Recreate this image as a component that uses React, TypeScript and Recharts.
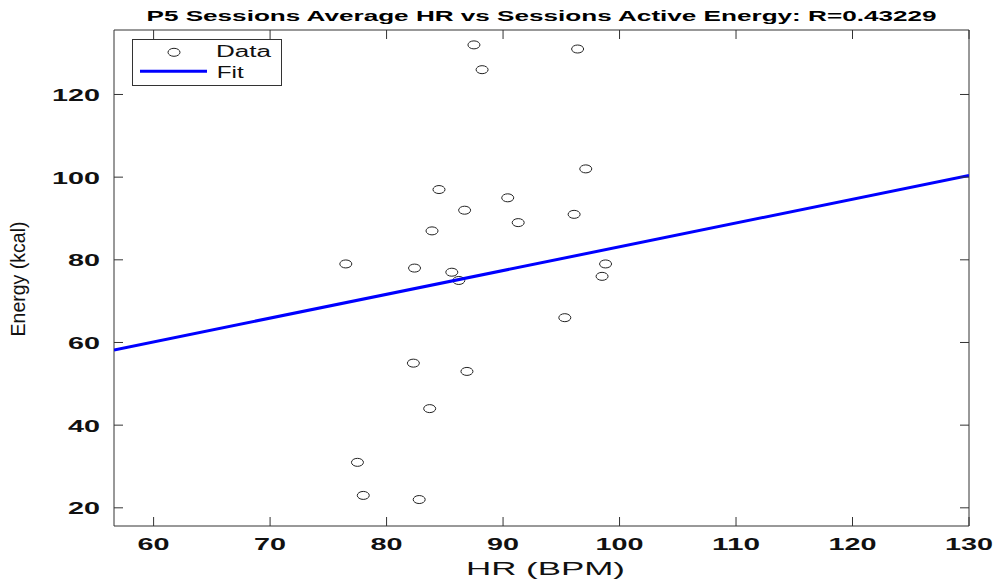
import { ScatterChart, Scatter, XAxis, YAxis, Legend, Label } from "recharts";

// values
const hrValues = [87.5, 96.4, 88.2, 97.1, 84.5, 90.4, 86.7, 91.3, 96.1, 83.9, 76.5, 82.4, 85.6, 86.2, 98.8, 98.5, 95.3, 82.3, 86.9, 83.7, 77.5, 78.0, 82.8];
const energyValues = [132, 131, 126, 102, 97, 95, 92, 89, 91, 87, 79, 78, 77, 75, 79, 76, 66, 55, 53, 44, 31, 23, 22];

// least squares fit drawn at the axis ends
const fitHr = [56.6, 130];
const fitEnergy = [58.2, 100.4];

const xTicks = [60, 70, 80, 90, 100, 110, 120, 130];
const yTicks = [20, 40, 60, 80, 100, 120];
const xDomain: [number, number] = [56.6, 130];
const yDomain: [number, number] = [15.6, 135.6];

const TITLE = "P5 Sessions Average HR vs Sessions Active Energy: R=0.43229";

const dataPoints = hrValues.map((x, i) => ({ x, y: energyValues[i] }));
const fitPoints = fitHr.map((x, i) => ({ x, y: fitEnergy[i] }));

const FONT = "'Liberation Sans', Arial, sans-serif";
const AXIS = "#333";
const TICK_LEN = 9;

const Ring = (p: any) => (
  <ellipse cx={p.cx} cy={p.cy} rx={6} ry={4} fill="none" stroke="#222" strokeWidth={1} />
);

const BottomTick = ({ x, y, payload }: any) => {
  const s = String(payload.value);
  return (
    <g>
      <line x1={x} x2={x} y1={y} y2={y - TICK_LEN} stroke={AXIS} />
      <text x={x} y={y + 24} textAnchor="middle" fontSize={16.5} fontWeight="bold" fill="#111" fontFamily={FONT}
        textLength={s.length * 16} lengthAdjust="spacingAndGlyphs">{s}</text>
    </g>
  );
};

const TopTick = ({ x, y }: any) => (
  <line x1={x} x2={x} y1={y} y2={y + TICK_LEN} stroke={AXIS} />
);

const LeftTick = ({ x, y, payload }: any) => {
  const s = String(payload.value);
  return (
    <g>
      <line x1={x} x2={x + TICK_LEN} y1={y} y2={y} stroke={AXIS} />
      <text x={x - 14} y={y + 6.5} textAnchor="end" fontSize={16.5} fontWeight="bold" fill="#111" fontFamily={FONT}
        textLength={s.length * 16} lengthAdjust="spacingAndGlyphs">{s}</text>
    </g>
  );
};

const RightTick = ({ x, y }: any) => (
  <line x1={x} x2={x - TICK_LEN} y1={y} y2={y} stroke={AXIS} />
);

const LegendBox = () => (
  <svg width={150} height={47} style={{ display: "block" }}>
    <rect x={0.5} y={0.5} width={149} height={46} fill="#fff" stroke={AXIS} />
    <ellipse cx={42} cy={13.3} rx={6} ry={4} fill="none" stroke="#222" />
    <text x={84} y={18.3} fontSize={16} fontFamily={FONT} fill="#111" textLength={55} lengthAdjust="spacingAndGlyphs">Data</text>
    <line x1={8} x2={75} y1={32.3} y2={32.3} stroke="#0000ff" strokeWidth={3} />
    <text x={84.7} y={39.3} fontSize={16} fontFamily={FONT} fill="#111" textLength={27} lengthAdjust="spacingAndGlyphs">Fit</text>
  </svg>
);

export default function App() {
  return (
    <div style={{ width: 997, height: 584, background: "#fff" }}>
      <style>{"body{margin:0}"}</style>
      <ScatterChart width={997} height={584} margin={{ top: 0, right: 0, bottom: 0, left: 0 }}>
        <XAxis xAxisId="b" dataKey="x" type="number" domain={xDomain} ticks={xTicks} allowDataOverflow
          height={58} tickSize={0} tickMargin={0} tickLine={false} tick={BottomTick}
          axisLine={{ stroke: AXIS }}>
          <Label content={() => (
            <text x={545.5} y={575} textAnchor="middle" fontSize={19} fontFamily={FONT} fill="#111"
              textLength={159} lengthAdjust="spacingAndGlyphs">HR (BPM)</text>
          )} />
        </XAxis>
        <XAxis xAxisId="t" orientation="top" dataKey="x" type="number" domain={xDomain} ticks={xTicks} allowDataOverflow
          height={30} tickSize={0} tickMargin={0} tickLine={false} tick={TopTick}
          axisLine={{ stroke: AXIS }}>
          <Label content={() => (
            <text x={541.5} y={21} textAnchor="middle" fontSize={15} fontWeight="bold" fontFamily={FONT} fill="#000"
              textLength={790} lengthAdjust="spacingAndGlyphs">{TITLE}</text>
          )} />
        </XAxis>
        <YAxis yAxisId="l" dataKey="y" type="number" domain={yDomain} ticks={yTicks} allowDataOverflow
          width={114} tickSize={0} tickMargin={0} tickLine={false} tick={LeftTick}
          axisLine={{ stroke: AXIS }}>
          <Label content={() => (
            <text x={25} y={279} transform="rotate(-90, 25, 279)" textAnchor="middle" fontSize={21} fontFamily={FONT} fill="#111"
              textLength={115} lengthAdjust="spacingAndGlyphs">Energy (kcal)</text>
          )} />
        </YAxis>
        <YAxis yAxisId="r" orientation="right" dataKey="y" type="number" domain={yDomain} ticks={yTicks} allowDataOverflow
          width={28} tickSize={0} tickMargin={0} tickLine={false} tick={RightTick}
          axisLine={{ stroke: AXIS }} />
        <Legend layout="vertical" align="center" verticalAlign="middle" content={LegendBox}
          wrapperStyle={{ left: 132, top: 39, width: 150, height: 47 }} />
        <Scatter name="Data" data={dataPoints} xAxisId="b" yAxisId="l" shape={Ring} isAnimationActive={false} />
        <Scatter name="Fit" data={fitPoints} xAxisId="b" yAxisId="l" shape={() => <g />}
          line={{ stroke: "#0000ff", strokeWidth: 3 }} isAnimationActive={false} />
      </ScatterChart>
    </div>
  );
}
